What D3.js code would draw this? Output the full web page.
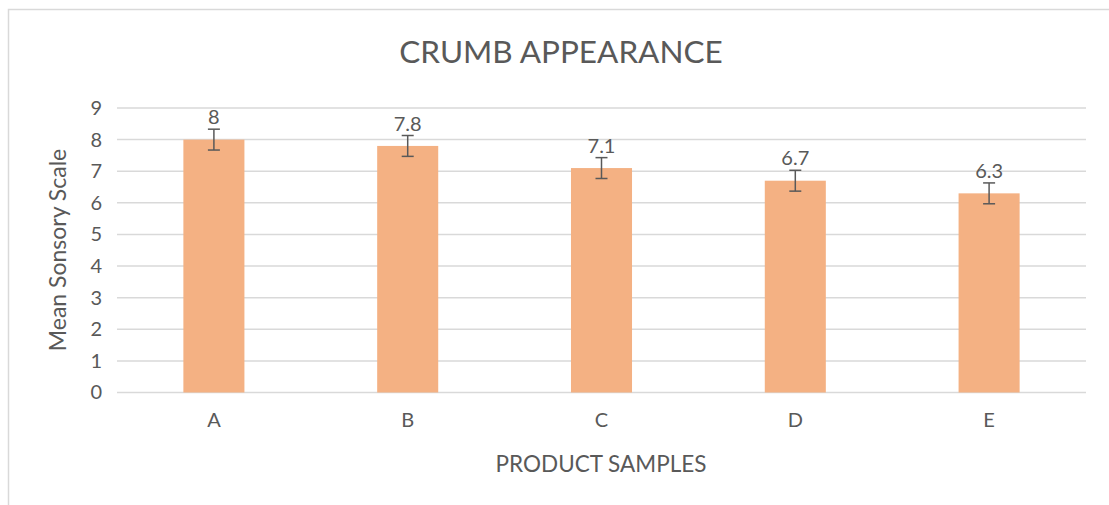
<!DOCTYPE html>
<html>
<head>
<meta charset="utf-8">
<script src="https://cdn.jsdelivr.net/npm/d3@7"></script>
<style>
  body { margin: 0; background: #fff; }
  text { font-family: Lato, "Open Sans", sans-serif; fill: #595959; }
</style>
</head>
<body>
<script>
const samples = ['A', 'B', 'C', 'D', 'E'];
const means = [8, 7.8, 7.1, 6.7, 6.3];
const errors = [0.33, 0.33, 0.33, 0.33, 0.33];
const yTicks = [0, 1, 2, 3, 4, 5, 6, 7, 8, 9];

const width = 1109, height = 505;
const margin = {top: 108, right: 23, bottom: 112, left: 117};

const svg = d3.select('body').append('svg').attr('width', width).attr('height', height);

// chart frame (only left and top edges visible in the crop)
svg.append('path')
  .attr('d', `M8.5,${height} V9.5 H${width}`)
  .attr('fill', 'none')
  .attr('stroke', '#d9d9d9')
  .attr('stroke-width', 1.5);

const x = d3.scaleBand()
  .domain(samples)
  .range([margin.left, width - margin.right])
  .paddingInner(0.685)
  .paddingOuter(0.3425);

const y = d3.scaleLinear()
  .domain([0, 9])
  .range([height - margin.bottom - 0.5, margin.top]);

// gridlines
svg.append('g')
  .selectAll('line').data(yTicks).enter()
  .append('line')
  .attr('x1', margin.left)
  .attr('x2', width - margin.right)
  .attr('y1', d => y(d))
  .attr('y2', d => y(d))
  .attr('stroke', '#d9d9d9')
  .attr('stroke-width', 1.5);

const yAxis = d3.axisLeft(y).tickValues(yTicks).tickSize(0).tickPadding(15);
svg.append('g')
  .attr('transform', `translate(${margin.left},0)`)
  .call(yAxis)
  .call(g => g.select('.domain').remove())
  .selectAll('text')
  .style('font-size', '20px')
  .attr('fill', '#595959');

const xAxis = d3.axisBottom(x).tickSize(0).tickPadding(20);
svg.append('g')
  .attr('transform', `translate(0,${y(0)})`)
  .call(xAxis)
  .call(g => g.select('.domain').remove())
  .selectAll('text')
  .style('font-size', '20px')
  .attr('fill', '#595959');

// bars
svg.append('g')
  .selectAll('rect').data(samples).enter()
  .append('rect')
  .attr('x', d => x(d))
  .attr('width', x.bandwidth())
  .attr('y', (d, i) => y(means[i]))
  .attr('height', (d, i) => y(0) - y(means[i]))
  .attr('fill', '#f4b183');

// error bars
const eb = svg.append('g')
  .attr('stroke', '#595959')
  .attr('stroke-width', 1.5)
  .selectAll('g').data(samples).enter()
  .append('g')
  .attr('transform', d => `translate(${x(d) + x.bandwidth() / 2},0)`);

eb.append('line')
  .attr('y1', (d, i) => y(means[i] + errors[i]))
  .attr('y2', (d, i) => y(means[i] - errors[i]));
eb.append('line')
  .attr('x1', -6).attr('x2', 6)
  .attr('y1', (d, i) => y(means[i] + errors[i]))
  .attr('y2', (d, i) => y(means[i] + errors[i]));
eb.append('line')
  .attr('x1', -6).attr('x2', 6)
  .attr('y1', (d, i) => y(means[i] - errors[i]))
  .attr('y2', (d, i) => y(means[i] - errors[i]));

// value labels
svg.append('g')
  .selectAll('text').data(samples).enter()
  .append('text')
  .attr('x', d => x(d) + x.bandwidth() / 2)
  .attr('y', (d, i) => y(means[i] + errors[i]) - 5)
  .attr('text-anchor', 'middle')
  .style('font-size', '20px')
  .text((d, i) => means[i]);

// titles
svg.append('text')
  .attr('x', 561)
  .attr('y', 63)
  .attr('text-anchor', 'middle')
  .style('font-size', '31.5px')
  .text('CRUMB APPEARANCE');

svg.append('text')
  .attr('x', 601)
  .attr('y', 472)
  .attr('text-anchor', 'middle')
  .style('font-size', '22.5px')
  .text('PRODUCT SAMPLES');

svg.append('text')
  .attr('transform', `translate(66,250) rotate(-90)`)
  .attr('text-anchor', 'middle')
  .style('font-size', '23px')
  .text('Mean Sonsory Scale');
</script>
</body>
</html>
